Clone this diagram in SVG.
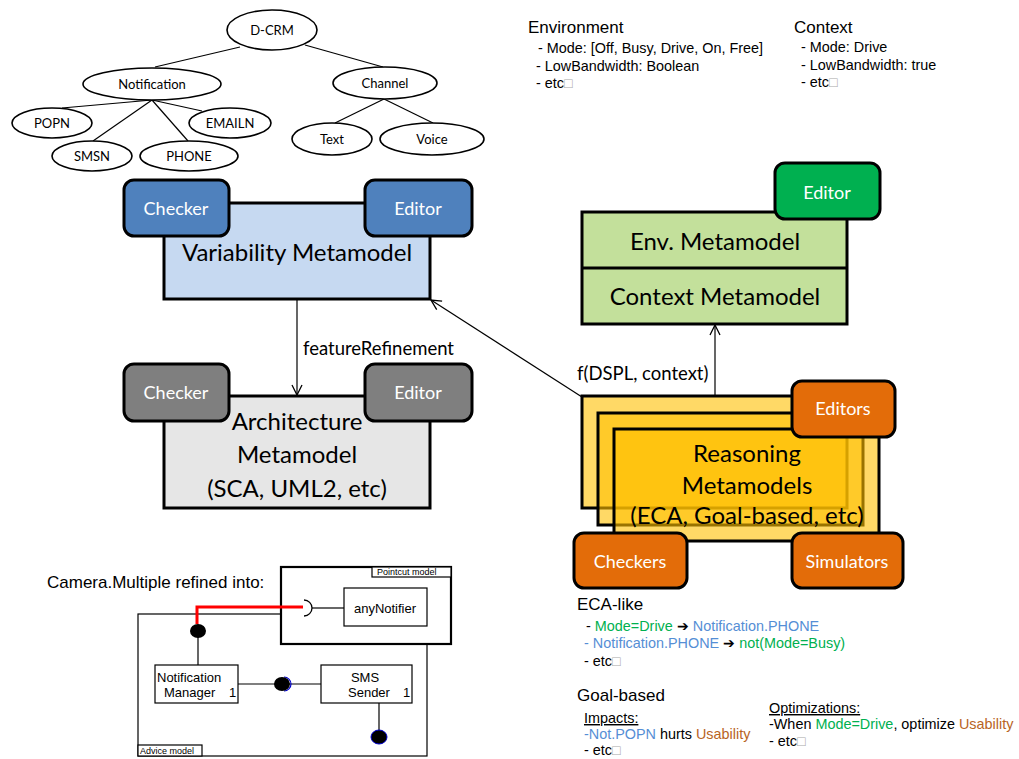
<svg xmlns="http://www.w3.org/2000/svg" width="1019" height="759" viewBox="0 0 1019 759">
  <defs>
    <style>
      .ell { fill: #fff; stroke: #000; stroke-width: 1.6; }
      .ft { font-family: Lato, "Open Sans", sans-serif; font-size: 13px; fill: #000; text-anchor: middle; }
      .edge { stroke: #000; stroke-width: 1.2; fill: none; }
      .blk { stroke: #000; stroke-width: 3; }
      .tool { stroke: #000; stroke-width: 3; }
      .tt { font-family: Lato, "Open Sans", sans-serif; font-size: 18px; fill: #fff; text-anchor: middle; }
      .big { font-family: Lato, "Open Sans", sans-serif; font-size: 24px; fill: #000; text-anchor: middle; }
      .lbl { font-family: Lato, "Open Sans", sans-serif; font-size: 18.5px; fill: #000; }
      .ar { font-family: "Liberation Sans", Arial, sans-serif; fill: #000; }
      .h { font-size: 17px; }
      .s { font-size: 14.4px; }
      .u { font-size: 13px; }
      .xs { font-size: 9px; }
      .miss { fill: #aaa; }
      .g { fill: #00B050; }
      .b { fill: #558ED5; }
      .o { fill: #B8641F; }
      .uml { fill: #fff; stroke: #000; stroke-width: 1.2; }
      .page { fill: #FFC000; fill-opacity: 0.6; stroke: #000; stroke-width: 3; }
    </style>
    <marker id="vhead" viewBox="0 0 12 12" refX="11" refY="6" markerWidth="12" markerHeight="12" markerUnits="userSpaceOnUse" orient="auto">
      <path d="M1,1 L11,6 L1,11" fill="none" stroke="#000" stroke-width="1.3"/>
    </marker>
  </defs>

  <!-- Feature tree -->
  <g id="feature-tree">
    <g class="edge">
      <line x1="240" y1="47" x2="155" y2="67"/>
      <line x1="305" y1="45" x2="383" y2="67"/>
      <line x1="152" y1="100" x2="62" y2="108"/>
      <line x1="152" y1="100" x2="202" y2="111"/>
      <line x1="152" y1="100" x2="93" y2="141"/>
      <line x1="152" y1="100" x2="188" y2="141"/>
      <line x1="384" y1="99" x2="335" y2="123"/>
      <line x1="384" y1="99" x2="433" y2="123"/>
    </g>
    <g id="n-dcrm"><ellipse class="ell" cx="272" cy="30" rx="45" ry="20"/><text class="ft" x="272" y="35">D-CRM</text></g>
    <g id="n-notification"><ellipse class="ell" cx="152" cy="84" rx="69" ry="16"/><text class="ft" x="152" y="89">Notification</text></g>
    <g id="n-channel"><ellipse class="ell" cx="385" cy="83" rx="52" ry="16"/><text class="ft" x="385" y="88">Channel</text></g>
    <g id="n-popn"><ellipse class="ell" cx="52" cy="123" rx="40" ry="15"/><text class="ft" x="52" y="128">POPN</text></g>
    <g id="n-emailn"><ellipse class="ell" cx="230" cy="123" rx="41" ry="15"/><text class="ft" x="230" y="128">EMAILN</text></g>
    <g id="n-smsn"><ellipse class="ell" cx="92" cy="156" rx="40" ry="15"/><text class="ft" x="92" y="161">SMSN</text></g>
    <g id="n-phone"><ellipse class="ell" cx="189" cy="156" rx="49" ry="15"/><text class="ft" x="189" y="161">PHONE</text></g>
    <g id="n-text"><ellipse class="ell" cx="332" cy="139" rx="40" ry="16"/><text class="ft" x="332" y="144">Text</text></g>
    <g id="n-voice"><ellipse class="ell" cx="432" cy="139" rx="52" ry="16"/><text class="ft" x="432" y="144">Voice</text></g>
  </g>

  <!-- Environment / Context definitions -->
  <g id="environment-text" class="ar">
    <text class="h" x="528" y="33">Environment</text>
    <text class="s" x="538" y="53">- Mode: [Off, Busy, Drive, On, Free]</text>
    <text class="s" x="536" y="71">- LowBandwidth: Boolean</text>
    <text class="s" x="536" y="88">- etc<tspan class="miss">□</tspan></text>
  </g>
  <g id="context-text" class="ar">
    <text class="h" x="794" y="33">Context</text>
    <text class="s" x="801" y="52">- Mode: Drive</text>
    <text class="s" x="801" y="70">- LowBandwidth: true</text>
    <text class="s" x="801" y="87">- etc<tspan class="miss">□</tspan></text>
  </g>

  <!-- Connectors -->
  <g id="connectors">
    <line class="edge" x1="297" y1="299" x2="297" y2="395" marker-end="url(#vhead)"/>
    <line class="edge" x1="582" y1="397" x2="431" y2="300" marker-end="url(#vhead)"/>
    <line class="edge" x1="715" y1="396" x2="715" y2="325" marker-end="url(#vhead)"/>
    <text class="lbl" x="303" y="355">featureRefinement</text>
    <text class="lbl" x="577" y="380">f(DSPL, context)</text>
  </g>

  <!-- Variability metamodel -->
  <g id="variability">
    <rect class="blk" x="164" y="203" width="266" height="96" fill="#C6D9F1"/>
    <text class="big" x="297" y="261">Variability Metamodel</text>
    <rect class="tool" x="124" y="180" width="105" height="56" rx="10" fill="#4F81BD"/>
    <text class="tt" x="176" y="215">Checker</text>
    <rect class="tool" x="365" y="180" width="107" height="56" rx="10" fill="#4F81BD"/>
    <text class="tt" x="418" y="215">Editor</text>
  </g>

  <!-- Architecture metamodel -->
  <g id="architecture">
    <rect class="blk" x="164" y="396" width="266" height="112" fill="#E6E6E6"/>
    <text class="big" x="297" y="430">Architecture</text>
    <text class="big" x="297" y="463">Metamodel</text>
    <text class="big" x="297" y="497">(SCA, UML2, etc)</text>
    <rect class="tool" x="124" y="364" width="105" height="57" rx="10" fill="#7F7F7F"/>
    <text class="tt" x="176" y="399">Checker</text>
    <rect class="tool" x="365" y="364" width="107" height="57" rx="10" fill="#7F7F7F"/>
    <text class="tt" x="418" y="399">Editor</text>
  </g>

  <!-- Environment / Context metamodel -->
  <g id="env-context">
    <rect class="blk" x="582" y="212" width="265" height="112" fill="#C3E09B"/>
    <line class="blk" x1="582" y1="268" x2="847" y2="268"/>
    <text class="big" x="715" y="250">Env. Metamodel</text>
    <text class="big" x="715" y="305">Context Metamodel</text>
    <rect class="tool" x="775" y="163" width="105" height="56" rx="10" fill="#00B050"/>
    <text class="tt" x="827" y="199">Editor</text>
  </g>

  <!-- Reasoning metamodels (stacked pages) -->
  <g id="reasoning">
    <rect class="page" x="582" y="396" width="265" height="112"/>
    <rect class="page" x="598" y="413" width="265" height="112"/>
    <rect class="page" x="614" y="429" width="265" height="112"/>
    <text class="big" x="747" y="462">Reasoning</text>
    <text class="big" x="747" y="494">Metamodels</text>
    <text class="big" x="747" y="524">(ECA, Goal-based, etc)</text>
    <rect class="tool" x="792" y="381" width="103" height="56" rx="10" fill="#E36C09"/>
    <text class="tt" x="843" y="415">Editors</text>
    <rect class="tool" x="574" y="533" width="113" height="55" rx="10" fill="#E36C09"/>
    <text class="tt" x="630" y="568">Checkers</text>
    <rect class="tool" x="792" y="533" width="111" height="55" rx="10" fill="#E36C09"/>
    <text class="tt" x="847" y="568">Simulators</text>
  </g>

  <!-- Aspect model: Camera.Multiple refinement -->
  <g id="aspect-model" class="ar">
    <text class="h" x="47" y="588">Camera.Multiple refined into:</text>
    <g id="advice-model">
      <rect class="uml" x="138" y="614" width="289" height="142"/>
      <rect class="uml" x="138" y="745" width="64" height="11" stroke-width="1"/>
      <text class="xs" x="140" y="754">Advice model</text>
    </g>
    <g id="pointcut-model">
      <rect x="281" y="567" width="170" height="77" fill="#fff" stroke="#000" stroke-width="2.2"/>
      <rect class="uml" x="372" y="567" width="79" height="10" stroke-width="1"/>
      <text class="xs" x="377" y="575">Pointcut model</text>
      <rect class="uml" x="344" y="588" width="83" height="38"/>
      <text class="u" x="385" y="613" text-anchor="middle">anyNotifier</text>
      <path d="M304,600 A8,8 0 0 1 304,616" fill="none" stroke="#000" stroke-width="1.3"/>
      <line x1="312" y1="608" x2="344" y2="608" stroke="#000" stroke-width="1.2"/>
    </g>
    <polyline points="197,624 197,607 303,607" fill="none" stroke="#FF0000" stroke-width="3"/>
    <g id="notification-manager">
      <line x1="198" y1="637" x2="198" y2="665" stroke="#000" stroke-width="1.2"/>
      <ellipse cx="198" cy="631" rx="8" ry="7" fill="#000"/>
      <rect class="uml" x="155" y="665" width="83" height="38"/>
      <text class="u" x="157" y="682">Notification</text>
      <text class="u" x="164" y="697">Manager</text>
      <text class="u" x="229" y="697">1</text>
    </g>
    <g id="sms-sender">
      <line x1="238" y1="684" x2="321" y2="684" stroke="#000" stroke-width="1.2"/>
      <path d="M284,677 A7,7 0 0 1 284,691" fill="none" stroke="#0000CC" stroke-width="1.2"/>
      <ellipse cx="282" cy="684" rx="8" ry="7" fill="#000"/>
      <rect class="uml" x="321" y="665" width="91" height="38"/>
      <text class="u" x="365" y="682" text-anchor="middle">SMS</text>
      <text class="u" x="348" y="697">Sender</text>
      <text class="u" x="403" y="697">1</text>
      <line x1="379" y1="703" x2="379" y2="731" stroke="#000" stroke-width="1.2"/>
      <ellipse cx="379" cy="737" rx="8" ry="7" fill="#000" stroke="#0000CC" stroke-width="1"/>
    </g>
  </g>

  <!-- ECA rules -->
  <g id="eca-text" class="ar">
    <text class="h" x="577" y="610">ECA-like</text>
    <text class="s" x="586" y="631">- <tspan class="g">Mode=Drive</tspan> ➔ <tspan class="b">Notification.PHONE</tspan></text>
    <text class="s" x="584" y="648"><tspan class="b">- Notification.PHONE</tspan> ➔ <tspan class="g">not(Mode=Busy)</tspan></text>
    <text class="s" x="584" y="666">- etc<tspan class="miss">□</tspan></text>
  </g>

  <!-- Goal-based rules -->
  <g id="goal-text" class="ar">
    <text class="h" x="577" y="701">Goal-based</text>
    <text class="s" x="584" y="723" text-decoration="underline">Impacts:</text>
    <text class="s" x="584" y="739"><tspan class="b">-Not.POPN</tspan> hurts <tspan class="o">Usability</tspan></text>
    <text class="s" x="584" y="755">- etc<tspan class="miss">□</tspan></text>
    <text class="s" x="769" y="713" text-decoration="underline">Optimizations:</text>
    <text class="s" x="769" y="729">-When  <tspan class="g">Mode=Drive</tspan>, optimize <tspan class="o">Usability</tspan></text>
    <text class="s" x="769" y="746">- etc<tspan class="miss">□</tspan></text>
  </g>
</svg>
